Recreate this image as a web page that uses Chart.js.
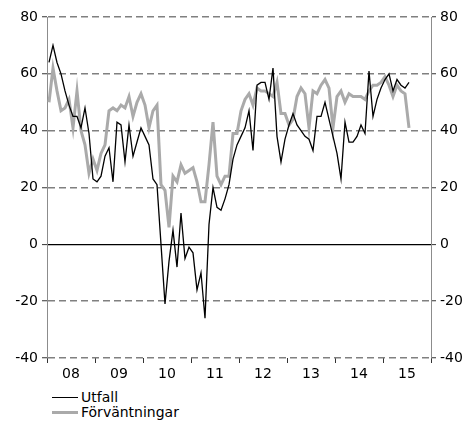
<!DOCTYPE html>
<html lang="sv">
<head>
  <meta charset="UTF-8">
  <title>Utfall och förväntningar</title>
  <script src="https://cdn.jsdelivr.net/npm/chart.js"></script>
  <style>
    body {
      margin: 0;
      background: #fff;
      font-family: "DejaVu Sans", Verdana, sans-serif;
    }
    #wrap {
      position: relative;
      width: 469px;
      height: 385px;
    }
    .legend {
      padding-top: 5px;
      margin-left: 52px;
      font-size: 14px;
      line-height: 15px;
      color: #000;
    }
    .legend div {
      display: flex;
      align-items: center;
    }
    .swatch {
      display: inline-block;
      width: 26px;
      margin-right: 3px;
    }
  </style>
</head>
<body>

  <div id="wrap"><canvas id="chart"></canvas></div>
  <div class="legend">
    <div><span class="swatch" style="border-top: 1.5px solid #000"></span>Utfall</div>
    <div><span class="swatch" style="border-top: 3px solid #aaaaaa"></span>Förväntningar</div>
  </div>

  <script>
    // year labels, one per 12 months starting Jan 2008
    const years = ['08', '09', '10', '11', '12', '13', '14', '15'];

    // monthly values Jan 2008 - Jul 2015
    const utfall = [
      64, 70, 64, 60, 54, 49, 45, 45, 41, 48, 39, 23,
      22, 24, 31, 34, 22, 43, 42, 29, 42, 31, 36, 41,
      38, 35, 23, 21, 0, -21, -6, 5, -8, 11, -5, -1,
      -3, -16, -10, -26, 7, 20, 13, 12, 16, 21, 30, 35,
      38, 41, 47, 33, 56, 57, 57, 51, 62, 38, 29, 37,
      42, 46, 42, 40, 38, 37, 33, 45, 45, 50, 44, 38,
      32, 23, 43, 36, 36, 38, 42, 39, 61, 45, 51, 55,
      58, 60, 54, 58, 56, 55, 57
    ];
    const forvantningar = [
      50, 62, 54, 47, 48, 51, 41, 54, 40, 35, 25, 30,
      26, 32, 35, 47, 48, 47, 49, 48, 52, 45, 50, 53,
      49, 41, 47, 49, 21, 19, 6, 24, 22, 28, 25, 26,
      27, 22, 15, 15, 28, 43, 24, 21, 24, 24, 39, 39,
      47, 51, 53, 49, 55, 54, 54, 53, 52, 57, 46, 46,
      42, 44, 52, 55, 53, 41, 54, 53, 56, 58, 55, 41,
      52, 54, 50, 53, 52, 52, 52, 51, 54, 56, 56, 57,
      59, 56, 52, 56, 54, 53, 41
    ];

    const yMin = -40, yMax = 80, yStep = 20;

    // point i sits in the middle of its month
    const toPoints = arr => arr.map((v, i) => ({ x: i + 0.5, y: v }));

    const tickFont = { family: '"DejaVu Sans", Verdana, sans-serif', size: 14 };

    const yAxis = (pos, width, onArea) => ({
      position: pos,
      min: yMin,
      max: yMax,
      afterFit: s => { s.width = width; },
      ticks: { stepSize: yStep, color: '#000', font: tickFont, padding: 4 },
      grid: {
        drawOnChartArea: onArea,
        color: c => (c.tick && c.tick.value === 0) ? '#000' : '#808080',
        lineWidth: c => (c.tick && c.tick.value === 0) ? 1.2 : 1.5,
        tickColor: '#333',
        tickLength: 5,
        tickWidth: 1,
        tickBorderDash: []
      },
      border: {
        display: true,
        color: '#8c8c8c',
        width: 1,
        dash: c => (c.tick && c.tick.value !== 0) ? [7, 4] : []
      }
    });

    new Chart(document.getElementById('chart'), {
      type: 'line',
      data: {
        datasets: [
          {
            label: 'Utfall',
            data: toPoints(utfall),
            borderColor: '#000',
            borderWidth: 1.3,
            pointRadius: 0,
            tension: 0,
            yAxisID: 'y'
          },
          {
            label: 'Förväntningar',
            data: toPoints(forvantningar),
            borderColor: '#aaaaaa',
            borderWidth: 3,
            pointRadius: 0,
            tension: 0,
            yAxisID: 'y'
          }
        ]
      },
      options: {
        responsive: true,
        maintainAspectRatio: false,
        animation: false,
        layout: { padding: { top: 17, left: 0, right: 0, bottom: 0 } },
        plugins: {
          legend: { display: false },
          tooltip: { enabled: false }
        },
        scales: {
          x: {
            type: 'linear',
            min: 0,
            max: years.length * 12,
            afterFit: s => { s.height = 27; },
            ticks: {
              stepSize: 6,
              autoSkip: false,
              maxRotation: 0,
              color: '#000',
              font: tickFont,
              padding: 3,
              callback: v => (v % 12 === 6) ? years[(v - 6) / 12] : ''
            },
            grid: {
              drawOnChartArea: false,
              tickLength: 5,
              tickColor: c => (c.tick && c.tick.value % 12 === 0) ? '#333' : 'rgba(0,0,0,0)'
            },
            border: { display: false }
          },
          y: yAxis('left', 47, true),
          y2: yAxis('right', 38, false)
        }
      }
    });
  </script>

</body>
</html>
